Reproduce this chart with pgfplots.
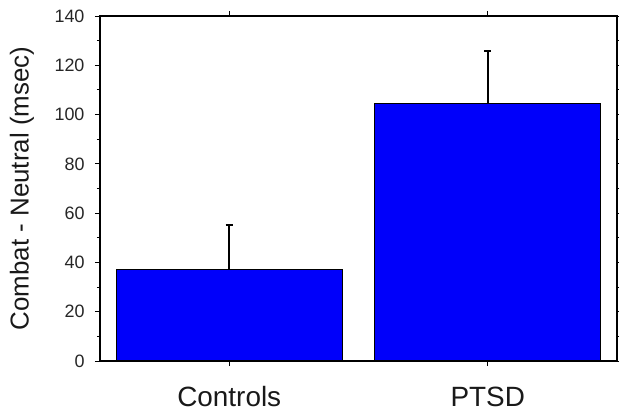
\documentclass[border=0pt]{standalone}
\usepackage{pgfplots}
\pgfplotsset{compat=1.18}
\usepackage{fontspec}
\setmainfont{Liberation Sans}
\begin{document}
\begin{tikzpicture}
\path[use as bounding box] (-100bp,-53bp) rectangle (519bp,361bp);
\begin{axis}[
  scale only axis,
  width=517bp, height=345bp,
  xmin=-0.5, xmax=1.5,
  ymin=0, ymax=140,
  xtick={0,1},
  xticklabels={Controls,PTSD},
  ytick={0,20,...,140},
  minor y tick num=1,
  tick align=outside,
  tick pos=both,
  major tick length=5bp,
  minor tick length=3bp,
  axis line style={line width=1.1bp},
  tick style={black, line width=0.9bp},
  /pgf/number format/assume math mode=true,
  yticklabel style={font=\fontsize{18}{20}\selectfont, xshift=-7bp, text=black!85},
  xticklabel style={font=\fontsize{28}{30}\selectfont, anchor=base, yshift=-40bp, text=black!90},
  ylabel={Combat - Neutral (msec)},
  ylabel style={font=\fontsize{26}{28}\selectfont, at={(axis description cs:-0.151,0.5)}, anchor=center, rotate=0, text=black!90},
  ybar, bar width=226bp,
]
\addplot[fill={rgb,255:red,0;green,0;blue,250}, draw=black, line width=1.3bp,
  error bars/.cd, y dir=plus, y explicit,
  error bar style={black, line width=1.8bp},
  error mark options={rotate=90, mark size=3.5bp, line width=1.8bp}]
  coordinates {(0,37.1) +- (0,18.1) (1,104.6) +- (0,21.2)};
\end{axis}
\end{tikzpicture}
\end{document}
